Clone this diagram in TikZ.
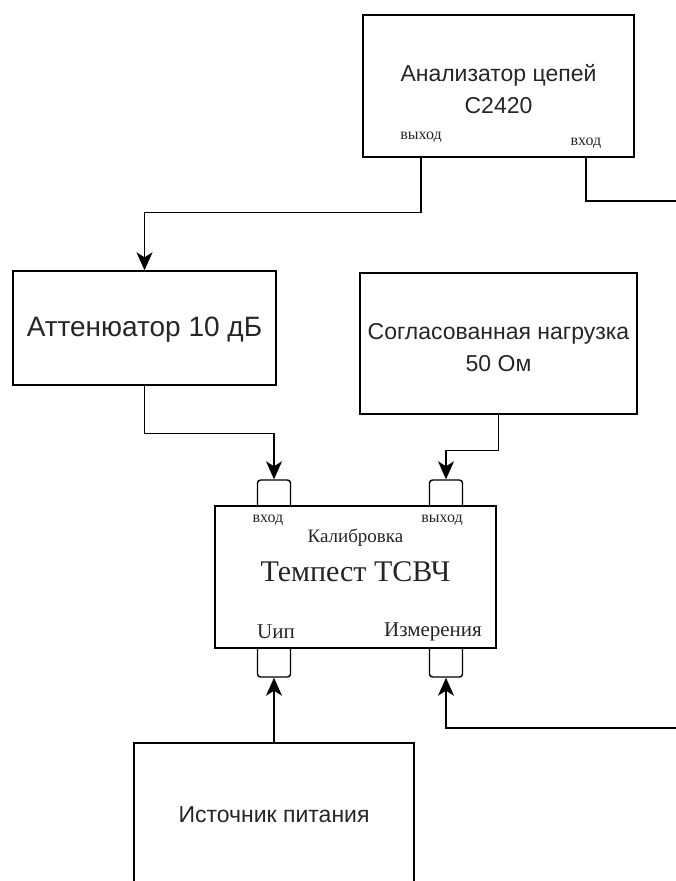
\documentclass[tikz,border=0pt]{standalone}
\usepackage{fontspec}
\setmainfont{Liberation Serif}
\newfontfamily\sansfont{Liberation Sans}
\usetikzlibrary{arrows.meta,positioning,backgrounds}
\begin{document}
\begin{tikzpicture}[x=1pt,y=-1pt]
\tikzstyle{device}=[draw,line width=1.4pt,fill=white,align=center,inner sep=0pt]
\tikzstyle{port}=[draw,line width=1.4pt,rounded corners=3pt,minimum width=33pt,minimum height=40pt,inner sep=0pt]
\tikzset{
	link/.style={line width=1.4pt,-{Stealth[length=18pt,width=16pt,inset=5pt]}},
	box text/.style={font=\sansfont\fontsize{23}{32}\selectfont,text=black!85,align=center},
	port text/.style={font=\fontsize{16}{18}\selectfont,text=black!85}
}
\useasboundingbox (0,0) rectangle (675,881);
% devices
\node[device,minimum width=271pt,minimum height=142pt] (analyzer) at (498.5,86) {};
\node[box text] at (498.5,89) {Анализатор цепей\\C2420};
\node[port text] (aout) at (421,137) {выход};
\node[port text] (ain) at (586,143) {вход};
\node[device,minimum width=263pt,minimum height=114pt] (atten) at (144.5,328) {};
\node[box text,font=\sansfont\fontsize{28}{32}\selectfont] at (144.5,330) {Аттенюатор 10 дБ};
\node[device,minimum width=277pt,minimum height=141pt] (load) at (498.5,343.5) {};
\node[box text] at (498.5,348) {Согласованная нагрузка\\50 Ом};
\node[device,minimum width=281pt,minimum height=142pt] (tempest) at (355.5,577) {};
\node[device,minimum width=280pt,minimum height=160pt] (supply) at (274,823) {};
\node[box text] at (274,815) {Источник питания};
% ports of the tempest box
\begin{pgfonlayer}{background}
\node[port] (pin) at (274,500) {};
\node[port] (pout) at (446,500) {};
\node[port] (pup) at (274,657) {};
\node[port] (pmeas) at (446,657) {};
\end{pgfonlayer}
\node[port text] at (268,520) {вход};
\node[port text] at (442,520) {выход};
\node[port text,font=\fontsize{19}{22}\selectfont] at (355.5,538) {Калибровка};
\node[port text,font=\fontsize{30}{34}\selectfont] at (355.5,572) {Темпест ТСВЧ};
\node[port text,font=\fontsize{21}{24}\selectfont] at (276,632) {Uип};
\node[port text,font=\fontsize{21}{24}\selectfont] at (433,632) {Измерения};
% connections
\coordinate (rtop) at (690,201);
\coordinate (rbot) at (690,728);
\draw[link] (analyzer.south -| aout) -- ++(0,55) -| (atten.north);
\draw[link] (atten.south) -- ++(0,48) -| (pin.north);
\draw[link] (load.south) -- ++(0,36) -| (pout.north);
\draw[link] (analyzer.south -| ain) |- (rtop) -- (rbot) -| (pmeas.south);
\draw[link] (supply.north) -- (pup.south);
\end{tikzpicture}
\end{document}
